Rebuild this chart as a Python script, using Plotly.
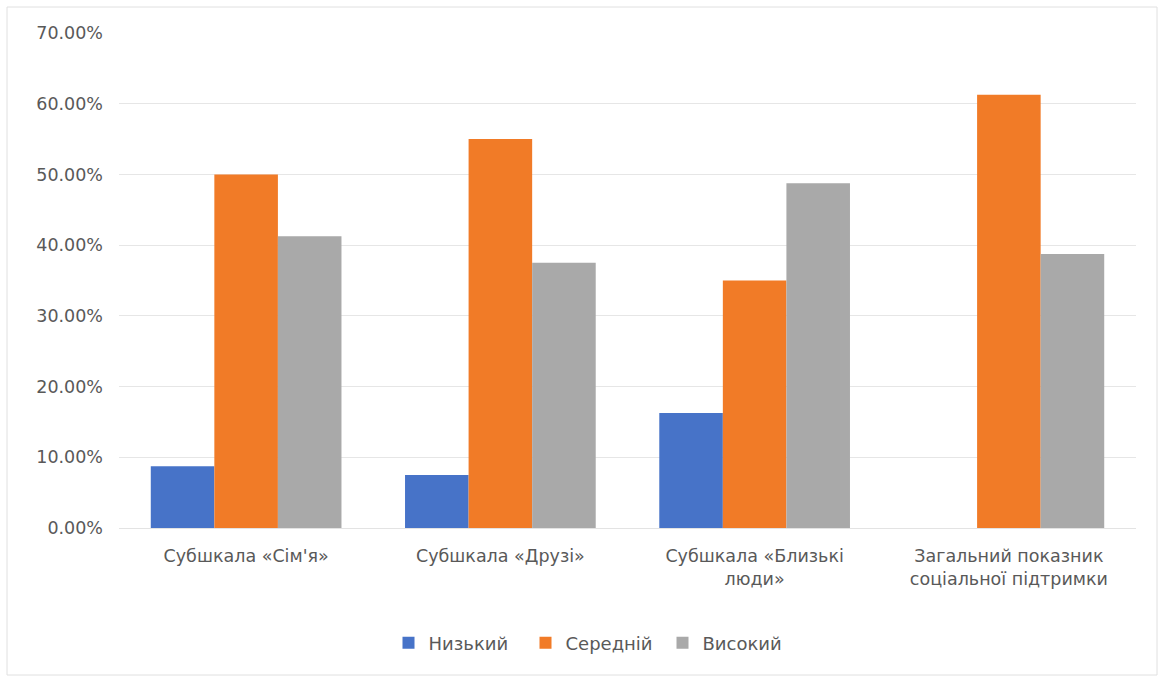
import plotly.graph_objects as go

categories = [
    "Субшкала «Сім'я»",
    "Субшкала «Друзі»",
    "Субшкала «Близькі<br>люди»",
    "Загальний показник<br>соціальної підтримки",
]
low = [0.0875, 0.075, 0.1625, 0.0]
medium = [0.50, 0.55, 0.35, 0.6125]
high = [0.4125, 0.375, 0.4875, 0.3875]

series_names = ["Низький", "Середній", "Високий"]
series_values = [low, medium, high]
series_colors = ["#4773C8", "#F17B27", "#A9A9A9"]

font_family = "DejaVu Sans, Liberation Sans, Arial"
text_color = "#595959"

fig = go.Figure()
for name, vals, col in zip(series_names, series_values, series_colors):
    fig.add_trace(go.Bar(
        x=categories, y=vals, name=name,
        marker=dict(color=col, line=dict(width=0)),
    ))

W, H = 1161, 678
ml, mr, mt, mb = 119, 25, 33, 150
pw, ph = W - ml - mr, H - mt - mb

def px_x(p):
    return (p - ml) / pw

def px_y(p):
    return (H - mb - p) / ph

fig.update_layout(
    width=W, height=H,
    margin=dict(l=ml, r=mr, t=mt, b=mb, pad=0),
    paper_bgcolor="white", plot_bgcolor="white",
    barmode="group", bargap=0.25, bargroupgap=0,
    font=dict(family=font_family, size=17, color=text_color),
    xaxis=dict(showgrid=False, showline=True, linecolor="#E3E3E3", linewidth=1,
               ticks="", ticklabelstandoff=12,
               tickfont=dict(size=17.5, color=text_color)),
    yaxis=dict(range=[0, 0.7], dtick=0.1, tickformat=".2%",
               showgrid=True, gridcolor="#E6E6E6", gridwidth=1,
               zeroline=False, showline=False, ticks="",
               ticklabelstandoff=15,
               tickfont=dict(size=17.5, color=text_color)),
    legend=dict(orientation="h", x=px_x(594), xanchor="center",
                y=px_y(643), yanchor="middle",
                font=dict(size=18, color=text_color), itemwidth=30,
                entrywidth=92, entrywidthmode="pixels",
                traceorder="normal"),
    shapes=[dict(type="rect", xref="paper", yref="paper",
                 x0=px_x(7), x1=px_x(1157), y0=px_y(675), y1=px_y(7),
                 line=dict(color="#E0E0E0", width=1), layer="below")],
)

fig.write_html("out.html")
